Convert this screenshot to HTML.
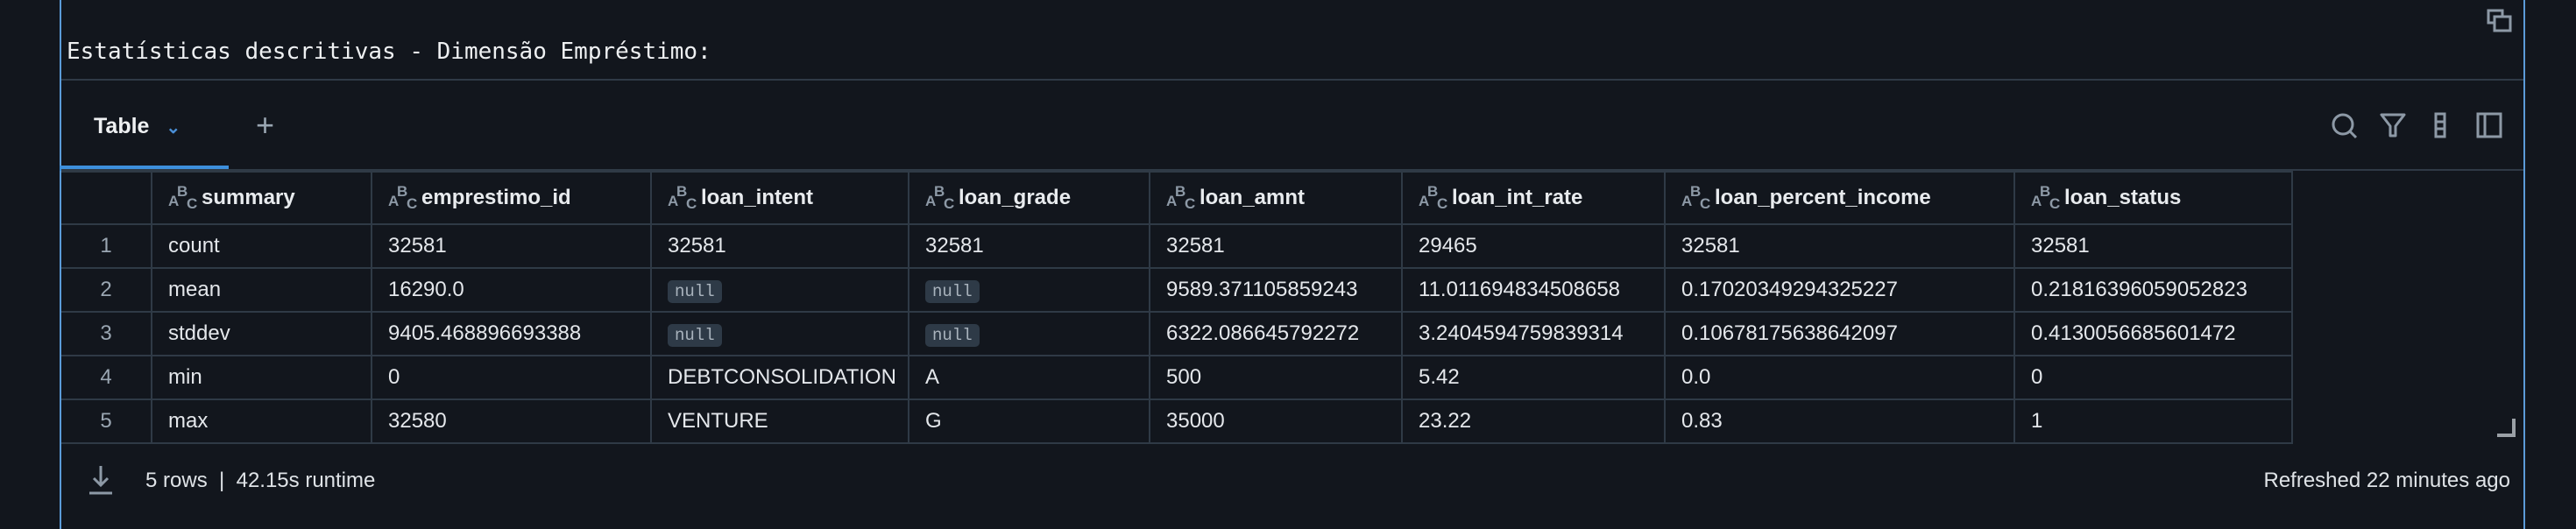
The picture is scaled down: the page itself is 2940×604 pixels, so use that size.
<!DOCTYPE html>
<html><head><meta charset="utf-8"><style>
*{margin:0;padding:0;box-sizing:border-box}
body{width:2940px;height:604px;background:#12161d;overflow:hidden;position:relative;font-family:"Liberation Sans",sans-serif;color:#e4e7eb}
.abs{position:absolute}
.vline{position:absolute;top:0;width:2px;height:604px;background:#5b9bd8}
.title{left:76px;top:44px;font-family:"DejaVu Sans Mono","Liberation Mono",monospace;font-size:26px;color:#eef0f2;white-space:pre}
.hsep{position:absolute;left:70px;width:2810px;height:2px;background:#2f3a46}
table{position:absolute;left:70px;top:195px;border-collapse:collapse;table-layout:fixed}
td,th{border:2px solid #2f3a46;font-size:24px;text-align:left;padding:0 0 0 18px;white-space:nowrap;overflow:hidden}
th{height:60px;font-weight:bold;color:#e8ebee}
td{height:50px;color:#e4e7eb}
td.rn{text-align:center;padding:0;color:#9aa6b2}
tr td:first-child,tr th:first-child{border-left:none}
.ic{display:inline-block;position:relative;width:34px;height:30px;margin-right:4px;vertical-align:-8px;color:#8d99a6;font-size:17px;font-weight:bold;font-style:normal}
.ic span{position:absolute}
.null{display:inline-block;background:#2e3a47;color:#a9b3bd;font-family:"Liberation Mono",monospace;font-size:19px;padding:2px 8px;border-radius:5px}
.foot{font-size:24px;color:#dfe3e7}
</style></head><body>
<div class="vline" style="left:68px"></div>
<div class="vline" style="left:2880px"></div>
<svg class="abs" style="left:2838px;top:10px" width="30" height="28" viewBox="0 0 30 28"><rect x="2" y="2" width="16" height="14" fill="none" stroke="#8d99a6" stroke-width="3"/><rect x="9" y="9" width="18" height="16" fill="#12161d" stroke="#8d99a6" stroke-width="3"/></svg>
<div class="abs title">Estatísticas descritivas - Dimensão Empréstimo:</div>
<div class="hsep" style="top:90px"></div>
<div class="abs" style="left:107px;top:130px;font-size:25px;font-weight:bold;color:#eef0f2">Table <span style="color:#4a8fd6;font-size:20px;margin-left:12px;font-weight:bold">&#8964;</span></div>
<div class="abs" style="left:292px;top:122px;font-size:36px;color:#9aa6b2">+</div>
<div class="abs" style="left:68px;top:189px;width:193px;height:6px;background:#3d8fdc"></div>
<div class="hsep" style="top:193px"></div>
<svg class="abs" style="left:2660px;top:128px" width="32" height="32"><circle cx="14" cy="14" r="11" fill="none" stroke="#8d99a6" stroke-width="3"/><line x1="22" y1="22" x2="29" y2="29" stroke="#8d99a6" stroke-width="3"/></svg>
<svg class="abs" style="left:2716px;top:128px" width="30" height="30"><path d="M2 3 H28 L18 16 V27 H12 V16 Z" fill="none" stroke="#8d99a6" stroke-width="3" stroke-linejoin="round"/></svg>
<svg class="abs" style="left:2778px;top:128px" width="16" height="30"><rect x="2" y="2" width="10" height="26" fill="none" stroke="#8d99a6" stroke-width="3"/><line x1="2" y1="11" x2="12" y2="11" stroke="#8d99a6" stroke-width="3"/><line x1="2" y1="19" x2="12" y2="19" stroke="#8d99a6" stroke-width="3"/></svg>
<svg class="abs" style="left:2826px;top:128px" width="30" height="30"><rect x="2" y="2" width="26" height="26" fill="none" stroke="#8d99a6" stroke-width="3"/><line x1="10" y1="2" x2="10" y2="28" stroke="#8d99a6" stroke-width="3"/></svg>
<table>
<colgroup><col style="width:103px"><col style="width:251px"><col style="width:319px"><col style="width:294px"><col style="width:275px"><col style="width:288px"><col style="width:300px"><col style="width:399px"><col style="width:317px"></colgroup>
<tr><th></th>
<th><i class="ic"><span style="left:0;top:9px">A</span><span style="left:10px;top:-2px">B</span><span style="left:21px;top:12px">C</span></i>summary</th>
<th><i class="ic"><span style="left:0;top:9px">A</span><span style="left:10px;top:-2px">B</span><span style="left:21px;top:12px">C</span></i>emprestimo_id</th>
<th><i class="ic"><span style="left:0;top:9px">A</span><span style="left:10px;top:-2px">B</span><span style="left:21px;top:12px">C</span></i>loan_intent</th>
<th><i class="ic"><span style="left:0;top:9px">A</span><span style="left:10px;top:-2px">B</span><span style="left:21px;top:12px">C</span></i>loan_grade</th>
<th><i class="ic"><span style="left:0;top:9px">A</span><span style="left:10px;top:-2px">B</span><span style="left:21px;top:12px">C</span></i>loan_amnt</th>
<th><i class="ic"><span style="left:0;top:9px">A</span><span style="left:10px;top:-2px">B</span><span style="left:21px;top:12px">C</span></i>loan_int_rate</th>
<th><i class="ic"><span style="left:0;top:9px">A</span><span style="left:10px;top:-2px">B</span><span style="left:21px;top:12px">C</span></i>loan_percent_income</th>
<th><i class="ic"><span style="left:0;top:9px">A</span><span style="left:10px;top:-2px">B</span><span style="left:21px;top:12px">C</span></i>loan_status</th></tr>
<tr><td class="rn">1</td><td>count</td><td>32581</td><td>32581</td><td>32581</td><td>32581</td><td>29465</td><td>32581</td><td>32581</td></tr>
<tr><td class="rn">2</td><td>mean</td><td>16290.0</td><td><span class="null">null</span></td><td><span class="null">null</span></td><td>9589.371105859243</td><td>11.011694834508658</td><td>0.17020349294325227</td><td>0.21816396059052823</td></tr>
<tr><td class="rn">3</td><td>stddev</td><td>9405.468896693388</td><td><span class="null">null</span></td><td><span class="null">null</span></td><td>6322.086645792272</td><td>3.2404594759839314</td><td>0.10678175638642097</td><td>0.4130056685601472</td></tr>
<tr><td class="rn">4</td><td>min</td><td>0</td><td>DEBTCONSOLIDATION</td><td>A</td><td>500</td><td>5.42</td><td>0.0</td><td>0</td></tr>
<tr><td class="rn">5</td><td>max</td><td>32580</td><td>VENTURE</td><td>G</td><td>35000</td><td>23.22</td><td>0.83</td><td>1</td></tr>
</table>
<svg class="abs" style="left:2848px;top:476px" width="24" height="24"><path d="M2 21 H21 V2" fill="none" stroke="#9aa0a6" stroke-width="4"/></svg>
<svg class="abs" style="left:100px;top:530px" width="30" height="36"><line x1="15" y1="2" x2="15" y2="24" stroke="#8d99a6" stroke-width="3"/><path d="M7 16 L15 24 L23 16" fill="none" stroke="#8d99a6" stroke-width="3"/><line x1="2" y1="33" x2="28" y2="33" stroke="#8d99a6" stroke-width="3"/></svg>
<div class="abs foot" style="left:166px;top:535px">5 rows &nbsp;|&nbsp; 42.15s runtime</div>
<div class="abs foot" style="right:75px;top:535px">Refreshed 22 minutes ago</div>
</body></html>
